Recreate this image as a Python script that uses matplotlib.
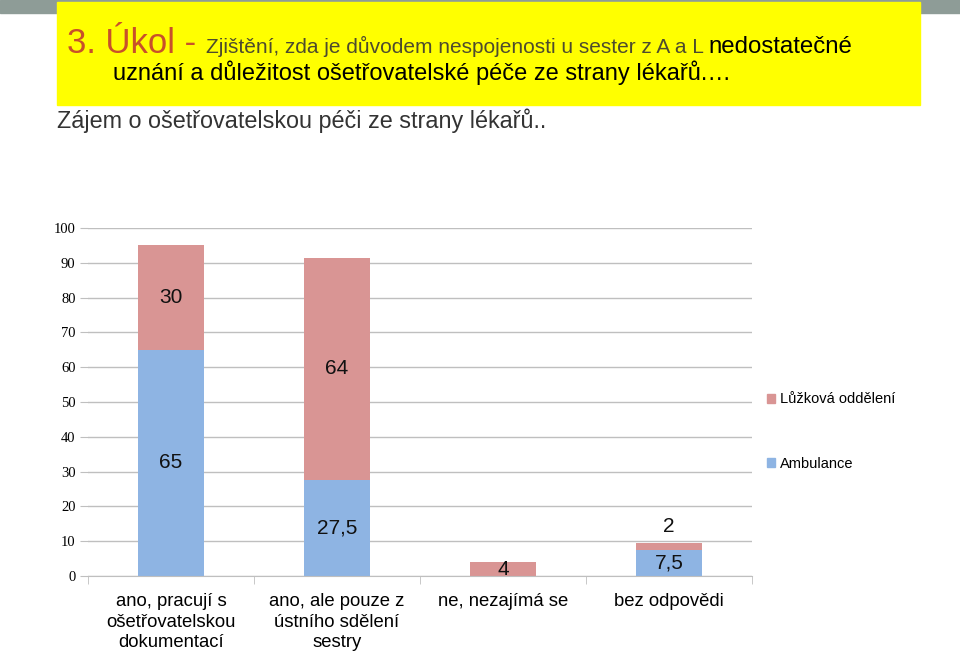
import matplotlib
matplotlib.use("Agg")
import matplotlib.pyplot as plt
from matplotlib.patches import Rectangle, Patch

categories = ["ano, pracují s\nošetřovatelskou\ndokumentací",
              "ano, ale pouze z\nústního sdělení\nsestry",
              "ne, nezajímá se",
              "bez odpovědi"]
ambulance = [65, 27.5, 0, 7.5]
luzkova = [30, 64, 4, 2]
amb_labels = ["65", "27,5", "", "7,5"]
luz_labels = ["30", "64", "4", "2"]

blue = "#8EB4E3"
pink = "#D99594"
sans = ["Liberation Sans", "DejaVu Sans"]

fig = plt.figure(figsize=(9.6, 6.51), dpi=100)

# slide decoration
fig.patches.append(Rectangle((0, 1 - 13 / 651), 1, 13 / 651, transform=fig.transFigure,
                             color="#8E9C97", zorder=0))
fig.patches.append(Rectangle((57 / 960, 1 - 105 / 651), 863 / 960, 103 / 651,
                             transform=fig.transFigure, color="#FFFF00", zorder=1))

# title pieces chained left to right
fig.canvas.draw()
r = fig.canvas.get_renderer()
x = 67 / 960
y1 = 1 - 53 / 651
pieces = [("3. Úkol - ", 25, "#C8502A"),
          ("Zjištění, zda je důvodem nespojenosti u sester z A a L ", 15, "#4D4B2E"),
          ("nedostatečné", 17.3, "black")]
for txt, sz, col in pieces:
    t = fig.text(x, y1, txt, fontsize=sz, color=col, family=sans, va="baseline", zorder=3)
    bb = t.get_window_extent(renderer=r)
    x = bb.x1 / fig.bbox.width
fig.text(113 / 960, 1 - 80 / 651, "uznání a důležitost ošetřovatelské péče ze strany lékařů.…",
         fontsize=17, color="black", family=sans, va="baseline", zorder=3)

fig.text(57 / 960, 1 - 128 / 651, "Zájem o ošetřovatelskou péči ze strany lékařů..",
         fontsize=16.8, color="#333333", family=sans, va="baseline")

ax = fig.add_axes([88 / 960, 1 - 576 / 651, 664 / 960, 348 / 651])
pos = range(len(categories))
ax.bar(pos, ambulance, width=0.4, color=blue, zorder=2)
ax.bar(pos, luzkova, width=0.4, bottom=ambulance, color=pink, zorder=2)

for i in pos:
    if amb_labels[i]:
        ax.text(i, ambulance[i] / 2, amb_labels[i], ha="center", va="center",
                fontsize=15, family=sans, color="#111111", zorder=3)
    top = ambulance[i] + luzkova[i]
    ly = ambulance[i] + luzkova[i] / 2
    if luzkova[i] < 3:
        ly = top + 4.6
    ax.text(i, ly, luz_labels[i], ha="center", va="center",
            fontsize=15, family=sans, color="#111111", zorder=3)

ax.set_xlim(-0.5, 3.5)
ax.set_ylim(0, 100)
ax.set_yticks(range(0, 101, 10))
ax.yaxis.grid(True, color="#BFBFBF", linewidth=1)
ax.set_axisbelow(True)
for s in ["top", "right", "left"]:
    ax.spines[s].set_visible(False)
ax.spines["bottom"].set_color("#BFBFBF")
ax.tick_params(axis="y", length=6, color="#BFBFBF", labelsize=10.5, pad=3)
for lab in ax.get_yticklabels():
    lab.set_family(["Liberation Serif", "DejaVu Serif"])
ax.set_xticks([i for i in pos])
ax.set_xticklabels(categories, fontsize=13.3, family=sans, linespacing=1.3, va="top")
ax.tick_params(axis="x", length=0, pad=12)
ax.set_xticks([-0.5, 0.5, 1.5, 2.5, 3.5], minor=True)
ax.tick_params(axis="x", which="minor", length=6, color="#BFBFBF")

handles = [Patch(color=pink), Patch(color=blue)]
fig.legend(handles, ["Lůžková oddělení", "Ambulance"], loc="upper left",
           bbox_to_anchor=(760 / 960, 1 - 385 / 651), frameon=False,
           prop={"family": sans, "size": 10.5}, handlelength=0.55, handleheight=0.55,
           handletextpad=0.3, labelspacing=3.45, borderpad=0)

fig.savefig("out.png", dpi=100)
